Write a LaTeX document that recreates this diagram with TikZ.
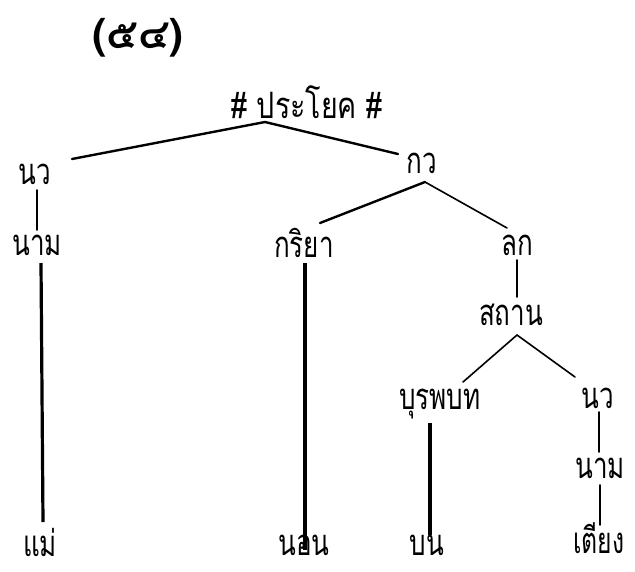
\documentclass[tikz,border=0pt]{standalone}
\usepackage{graphicx}
\usepackage{fontspec}
\newfontfamily\thai[Script=Thai]{Loma}
\newcommand\tall[1]{\scalebox{1}[1.4]{#1}}
\usetikzlibrary{calc}
\begin{document}
\begin{tikzpicture}[x=1pt,y=-1pt,
  lbl/.style={inner sep=0pt, font=\thai\fontsize{26}{30}\selectfont},
  edge/.style={line width=1.6pt, line cap=round},
  thickedge/.style={line width=3.2pt},
  topedge/.style={line width=2.4pt, line cap=round}]
\useasboundingbox (0,0) rectangle (635,571);
\node[inner sep=0pt, font=\thai\bfseries\fontsize{36}{40}\selectfont] (title) at (138,38) {\scalebox{1.15}[1.15]{(๕๔)}};
\node[lbl] (S) at (307,102) {\scalebox{1.1}[1.4]{\# ประโยค \#}};
\node[lbl] (nv1) at (35,174) {\tall{นว}};
\node[lbl] (kv) at (422,163) {\tall{กว}};
\node[lbl] (nam1) at (37,245) {\tall{นาม}};
\node[lbl] (kriya) at (304,243) {\tall{กริยา}};
\node[lbl] (lk) at (517,245) {\tall{ลก}};
\node[lbl] (sathan) at (511,315) {\tall{สถาน}};
\node[lbl] (burap) at (440,404) {\tall{บุรพบท}};
\node[lbl] (nv2) at (598,398) {\tall{นว}};
\node[lbl] (nam2) at (600,468) {\tall{นาม}};
\node[lbl] (mae) at (40,542) {\tall{แม่}};
\node[lbl] (non) at (304,545) {\tall{นอน}};
\node[lbl] (bon) at (427,545) {\tall{บน}};
\node[lbl] (tiang) at (599,538) {\scalebox{0.95}[1.4]{เตียง}};
\draw[topedge] ($(S)+(-42,20)$) -- ($(nv1)+(37,-15)$);
\draw[topedge] ($(S)+(-42,20)$) -- ($(kv)+(-24,-9)$);
\draw[edge] ($(nv1)+(2,16)$) -- ($(nam1)+(0,-15)$);
\draw[topedge] ($(kv)+(3,19)$) -- ($(kriya)+(16,-20)$);
\draw[edge] ($(kv)+(3,19)$) -- ($(lk)+(-10,-17)$);
\draw[thickedge] ($(nam1)+(4,18)$) -- ($(mae)+(3,-20)$);
\draw[thickedge] ($(kriya)+(1,20)$) -- ($(non)+(1,5)$);
\draw[edge] ($(lk)+(0,15)$) -- ($(sathan)+(6,-18)$);
\draw[edge] ($(sathan)+(6,20)$) -- ($(burap)+(23,-22)$);
\draw[edge] ($(sathan)+(6,20)$) -- ($(nv2)+(-23,-21)$);
\draw[thickedge] ($(burap)+(-10,19)$) -- ($(bon)+(3,-10)$);
\draw[edge] ($(nv2)+(1,14)$) -- ($(nam2)+(-1,-16)$);
\draw[edge] ($(nam2)+(0,17)$) -- ($(tiang)+(1,-13)$);
\end{tikzpicture}
\end{document}
